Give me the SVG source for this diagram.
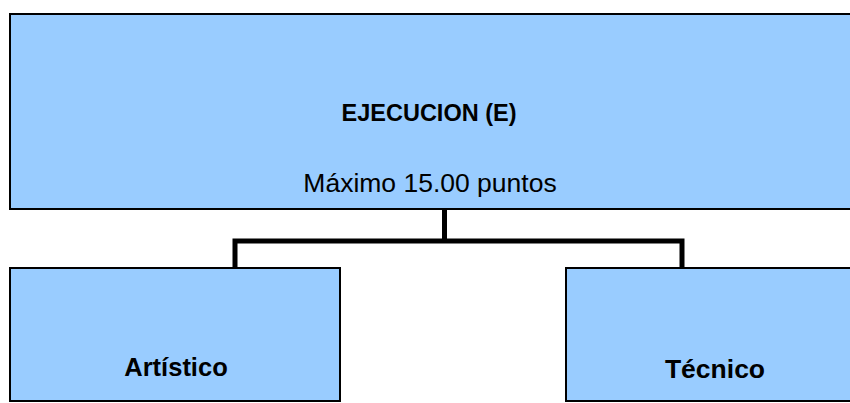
<svg xmlns="http://www.w3.org/2000/svg" width="850" height="403" viewBox="0 0 850 403">
<style>
.box{fill:#99ccff;stroke:#000;stroke-width:2}
.lbl{font-family:"Liberation Sans",Arial,sans-serif;fill:#000;text-anchor:middle}
.b{font-weight:bold}
.conn{fill:none;stroke:#000;stroke-width:5;stroke-linecap:square}
</style>
<rect width="850" height="403" fill="#fff"/>
<g id="connectors">
<path class="conn" d="M444.5,210 V241 M235,241 H682 M235,241 V267 M682,241 V267"/>
</g>
<g id="ejecucion">
<rect class="box" x="10" y="14" width="850" height="195"/>
<text class="lbl b" x="429" y="121" font-size="23.5">EJECUCION (E)</text>
<text class="lbl" x="430" y="192" font-size="26.5">Máximo 15.00 puntos</text>
</g>
<g id="artistico">
<rect class="box" x="10" y="268" width="330" height="133"/>
<text class="lbl b" x="176" y="376" font-size="25.5">Artístico</text>
</g>
<g id="tecnico">
<rect class="box" x="566" y="268" width="300" height="133"/>
<text class="lbl b" x="715" y="378" font-size="26.5">Técnico</text>
</g>
</svg>
